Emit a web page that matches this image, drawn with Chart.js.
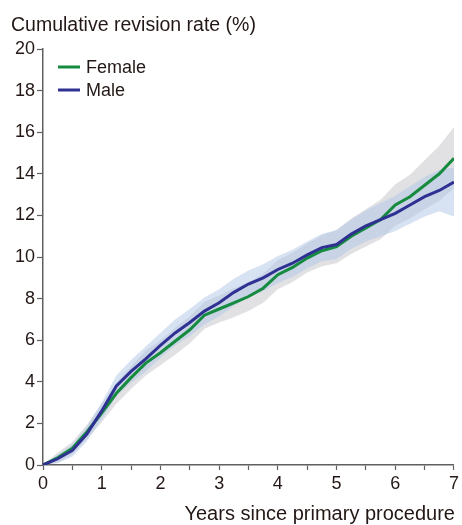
<!DOCTYPE html>
<html>
<head>
<meta charset="utf-8">
<script src="https://cdn.jsdelivr.net/npm/chart.js@4"></script>
<style>
  html, body { margin: 0; padding: 0; background: #fff; }
  #wrap { width: 462px; height: 525px; }
</style>
</head>
<body>
<div id="wrap"><canvas id="chart" width="462" height="525"></canvas></div>
<script>
// Years since primary procedure
const years = [0, 0.25, 0.5, 0.75, 1, 1.25, 1.5, 1.75, 2, 2.25, 2.5, 2.75, 3, 3.25, 3.5, 3.75, 4, 4.25, 4.5, 4.75, 5, 5.25, 5.5, 5.75, 6, 6.25, 6.5, 6.75, 7];

// Cumulative revision rate (%)
const female = [0, 0.35, 0.8, 1.6, 2.5, 3.45, 4.2, 4.9, 5.4, 5.95, 6.5, 7.2, 7.5, 7.8, 8.1, 8.5, 9.15, 9.5, 9.95, 10.3, 10.5, 11.0, 11.4, 11.8, 12.5, 12.9, 13.45, 14.0, 14.75];
const femaleUpper = [0, 0.6, 1.1, 1.95, 2.95, 3.95, 4.75, 5.5, 6.0, 6.6, 7.15, 7.85, 8.15, 8.5, 8.8, 9.2, 9.85, 10.2, 10.65, 11.05, 11.3, 11.85, 12.3, 12.75, 13.5, 13.95, 14.65, 15.35, 16.25];
const femaleLower = [0, 0.1, 0.5, 1.25, 2.05, 2.95, 3.65, 4.3, 4.8, 5.3, 5.85, 6.55, 6.85, 7.1, 7.4, 7.8, 8.45, 8.8, 9.25, 9.55, 9.7, 10.15, 10.5, 10.85, 11.5, 11.85, 12.3, 12.7, 13.3];

const male = [0, 0.3, 0.7, 1.5, 2.6, 3.8, 4.5, 5.1, 5.75, 6.35, 6.85, 7.4, 7.8, 8.3, 8.7, 9.0, 9.4, 9.7, 10.1, 10.45, 10.6, 11.1, 11.5, 11.8, 12.1, 12.5, 12.9, 13.2, 13.6];
const maleUpper = [0, 0.5, 1.0, 1.85, 3.0, 4.3, 5.05, 5.7, 6.35, 7.0, 7.5, 8.05, 8.45, 8.95, 9.35, 9.65, 10.05, 10.35, 10.75, 11.1, 11.3, 11.8, 12.25, 12.6, 12.95, 13.4, 13.85, 14.2, 14.3];
const maleLower = [0, 0.1, 0.4, 1.15, 2.2, 3.3, 3.95, 4.5, 5.15, 5.75, 6.2, 6.75, 7.15, 7.65, 8.05, 8.35, 8.75, 9.05, 9.45, 9.8, 9.9, 10.4, 10.75, 11.0, 11.25, 11.6, 11.95, 12.2, 11.95];

const seriesNames = ['Female', 'Male'];
const chartTitle = 'Cumulative revision rate (%)';
const xTitle = 'Years since primary procedure';

const GREEN = '#168a3e';
const BLUE = '#2f3192';
const TEXT = '#231815';
const AXIS = '#606060';
const FONT = '"Liberation Sans", Arial, Helvetica, sans-serif';

const pts = arr => arr.map((v, i) => ({ x: years[i], y: v }));

// Title, axis title and the legend drawn straight on the canvas
const extras = {
    id: 'extras',
    afterDraw(chart) {
        const ctx = chart.ctx;
        const area = chart.chartArea;
        ctx.save();
        ctx.fillStyle = TEXT;
        ctx.textBaseline = 'alphabetic';
        ctx.font = '19.5px ' + FONT;
        ctx.textAlign = 'left';
        ctx.fillText(chartTitle, 11, 31);
        ctx.font = '20px ' + FONT;
        ctx.textAlign = 'right';
        ctx.fillText(xTitle, area.right + 1, 520);

        // legend
        const colors = [GREEN, BLUE];
        ctx.font = '18px ' + FONT;
        ctx.textAlign = 'left';
        ctx.textBaseline = 'middle';
        seriesNames.forEach((name, i) => {
            const y = 67 + i * 23;
            ctx.strokeStyle = colors[i];
            ctx.lineWidth = 3;
            ctx.beginPath();
            ctx.moveTo(58, y);
            ctx.lineTo(80, y);
            ctx.stroke();
            ctx.fillStyle = TEXT;
            ctx.fillText(name, 86, y + 1);
        });
        ctx.restore();
    }
};

new Chart(document.getElementById('chart'), {
    type: 'line',
    data: {
        datasets: [
            { label: 'Female', data: pts(female), borderColor: GREEN, borderWidth: 3, pointRadius: 0, fill: false, order: 1 },
            { label: 'Male', data: pts(male), borderColor: BLUE, borderWidth: 3, pointRadius: 0, fill: false, order: 0 },
            { label: 'Female upper', data: pts(femaleUpper), borderWidth: 0, pointRadius: 0, fill: false, order: 5 },
            { label: 'Female lower', data: pts(femaleLower), borderWidth: 0, pointRadius: 0, fill: '-1', backgroundColor: 'rgba(205,205,210,0.6)', order: 5 },
            { label: 'Male upper', data: pts(maleUpper), borderWidth: 0, pointRadius: 0, fill: false, order: 4 },
            { label: 'Male lower', data: pts(maleLower), borderWidth: 0, pointRadius: 0, fill: '-1', backgroundColor: 'rgba(175,198,232,0.5)', order: 4 }
        ]
    },
    options: {
        responsive: false,
        animation: false,
        layout: { padding: { top: 49, right: 5, left: 0, bottom: 0 } },
        plugins: {
            legend: { display: false },
            tooltip: { enabled: false }
        },
        scales: {
            x: {
                type: 'linear',
                min: 0,
                max: 7,
                afterFit: s => { s.height = 60; },
                border: { color: AXIS, width: 1.5 },
                grid: { drawOnChartArea: false, drawTicks: true, tickLength: 5, color: AXIS, tickWidth: 1.2 },
                ticks: {
                    stepSize: 0.5,
                    autoSkip: false,
                    maxRotation: 0,
                    padding: 3,
                    color: TEXT,
                    font: { family: FONT, size: 18 },
                    callback: v => Number.isInteger(v) ? String(v) : ''
                }
            },
            y: {
                min: 0,
                max: 20,
                afterFit: s => { s.width = 43; },
                border: { color: AXIS, width: 1.5 },
                grid: { drawOnChartArea: false, drawTicks: true, tickLength: 6, color: AXIS, tickWidth: 1.2 },
                ticks: {
                    stepSize: 2,
                    padding: 2,
                    color: TEXT,
                    font: { family: FONT, size: 18 }
                }
            }
        }
    },
    plugins: [extras]
});
</script>
</body>
</html>
